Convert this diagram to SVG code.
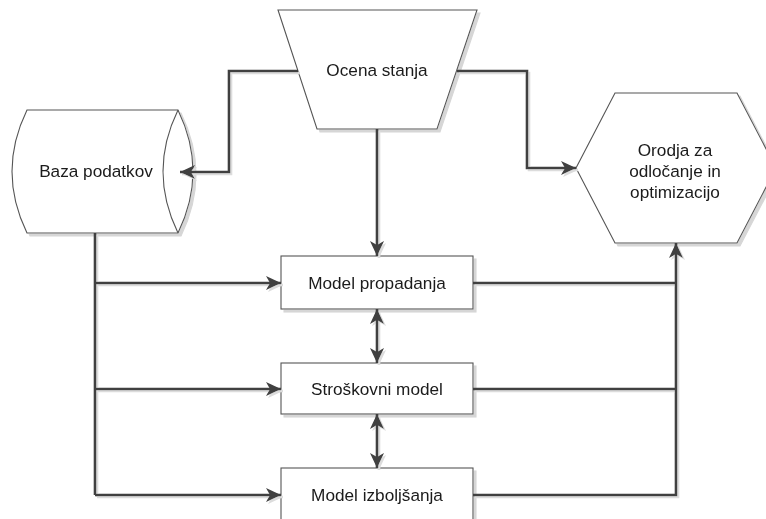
<svg xmlns="http://www.w3.org/2000/svg" width="766" height="519" viewBox="0 0 766 519">
  <style>
    .shape { fill: #ffffff; stroke: #555555; stroke-width: 1.1; }
    .label { font-family: "Liberation Sans", Arial, sans-serif; font-size: 17.2px; fill: #1a1a1a; text-anchor: middle; dominant-baseline: central; }
    .wire { fill: none; stroke: #404040; stroke-width: 2.6; }
  </style>
  <defs>
    <filter id="shade" x="-10%" y="-10%" width="130%" height="130%">
      <feFlood flood-color="#d6d6d6" result="c"/>
      <feComposite in="c" in2="SourceAlpha" operator="in" result="s"/>
      <feOffset in="s" dx="3" dy="3" result="o"/>
      <feMerge><feMergeNode in="o"/><feMergeNode in="SourceGraphic"/></feMerge>
    </filter>
    <filter id="lineShade" x="-5%" y="-5%" width="110%" height="110%">
      <feFlood flood-color="#dcdcdc" result="c"/>
      <feComposite in="c" in2="SourceAlpha" operator="in" result="s"/>
      <feOffset in="s" dx="2" dy="2" result="o"/>
      <feMerge><feMergeNode in="o"/><feMergeNode in="SourceGraphic"/></feMerge>
    </filter>
    <marker id="arrow" viewBox="0 0 15 14" refX="15" refY="7" markerWidth="15" markerHeight="14" markerUnits="userSpaceOnUse" orient="auto-start-reverse">
      <path d="M0,0 L15,7 L0,14 L4,7 Z" fill="#404040"/>
    </marker>
  </defs>

  <rect width="766" height="519" fill="#ffffff"/>

  <g id="baza-podatkov" filter="url(#shade)">
    <path class="shape" d="M27,110 L178,110 Q208,171.5 178,233 L27,233 Q-3,171.5 27,110 Z"/>
    <path class="shape" fill="none" d="M178,110 Q148,171.5 178,233"/>
    <text class="label" x="96" y="171">Baza podatkov</text>
  </g>

  <g id="ocena-stanja" filter="url(#shade)">
    <polygon class="shape" points="278,10 477,10 437,129 317,129"/>
    <text class="label" x="377" y="70">Ocena stanja</text>
  </g>

  <g id="orodja" filter="url(#shade)">
    <polygon class="shape" points="615,93 737,93 776,168 737,243 615,243 576,168"/>
    <text class="label" x="675" y="150">Orodja za</text>
    <text class="label" x="675" y="171">odločanje in</text>
    <text class="label" x="675" y="192">optimizacijo</text>
  </g>

  <g id="model-propadanja" filter="url(#shade)">
    <rect class="shape" x="281" y="256" width="192" height="53"/>
    <text class="label" x="377" y="283">Model propadanja</text>
  </g>

  <g id="stroskovni-model" filter="url(#shade)">
    <rect class="shape" x="281" y="363" width="192" height="51"/>
    <text class="label" x="377" y="389">Stroškovni model</text>
  </g>

  <g id="model-izboljsanja" filter="url(#shade)">
    <rect class="shape" x="281" y="468" width="192" height="60"/>
    <text class="label" x="377" y="495">Model izboljšanja</text>
  </g>

  <!-- connectors -->
  <g id="connectors" class="wire" filter="url(#lineShade)">
    <!-- Ocena stanja to Baza podatkov -->
    <path d="M298,71 H229 V172 H180" marker-end="url(#arrow)"/>
    <!-- Ocena stanja to decision tools -->
    <path d="M457,71 H527 V168 H576" marker-end="url(#arrow)"/>
    <!-- Ocena stanja to Model propadanja -->
    <path d="M377,129 V256" marker-end="url(#arrow)"/>
    <!-- database feed into the three models -->
    <path d="M95,233 V495"/>
    <path d="M95,283 H281" marker-end="url(#arrow)"/>
    <path d="M95,389 H281" marker-end="url(#arrow)"/>
    <path d="M95,495 H281" marker-end="url(#arrow)"/>
    <!-- links between models -->
    <path d="M377,309 V363" marker-start="url(#arrow)" marker-end="url(#arrow)"/>
    <path d="M377,414 V468" marker-start="url(#arrow)" marker-end="url(#arrow)"/>
    <!-- models into decision tools -->
    <path d="M473,283 H676"/>
    <path d="M473,389 H676"/>
    <path d="M473,495 H676 V243" marker-end="url(#arrow)"/>
  </g>
</svg>
